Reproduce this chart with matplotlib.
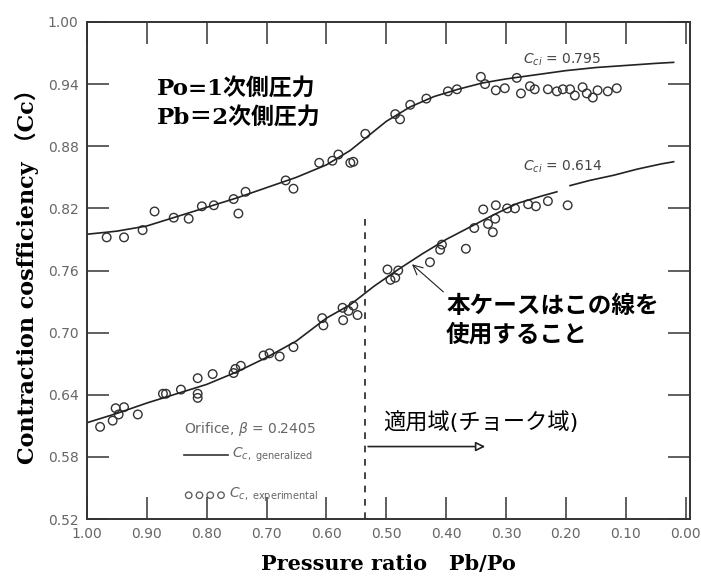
import matplotlib
matplotlib.use("Agg")
import matplotlib.pyplot as plt
import numpy as np

# generalized curves
top_x = [1.00, 0.95, 0.90, 0.85, 0.80, 0.75, 0.70, 0.65, 0.60, 0.56, 0.53, 0.50,
         0.46, 0.42, 0.38, 0.34, 0.30, 0.25, 0.20, 0.15, 0.10, 0.05, 0.02]
top_y = [0.795, 0.798, 0.803, 0.812, 0.821, 0.830, 0.840, 0.850, 0.862, 0.876, 0.890, 0.904,
         0.918, 0.928, 0.935, 0.941, 0.945, 0.949, 0.953, 0.956, 0.958, 0.960, 0.961]

# the printed lower curve has a small break near 0.20
low_x = [1.00, 0.95, 0.90, 0.85, 0.80, 0.75, 0.70, 0.65, 0.60, 0.56, 0.52, 0.48,
         0.44, 0.40, 0.36, 0.32, 0.28, 0.24, 0.215, 0.205, 0.193, 0.16, 0.12, 0.08, 0.04, 0.02]
low_y = [0.613, 0.622, 0.632, 0.641, 0.650, 0.662, 0.676, 0.692, 0.714, 0.727, 0.745, 0.761,
         0.776, 0.790, 0.802, 0.814, 0.825, 0.832, 0.836, np.nan, 0.842, 0.847, 0.852, 0.858,
         0.863, 0.865]

# experimental points
top_px = [0.967, 0.938, 0.907, 0.887, 0.855, 0.830, 0.808, 0.788, 0.755, 0.747, 0.735,
          0.668, 0.655, 0.612, 0.590, 0.580, 0.560, 0.555, 0.535, 0.485, 0.477, 0.460,
          0.433, 0.397, 0.382, 0.342, 0.335, 0.317, 0.302, 0.282, 0.275, 0.260, 0.252,
          0.230, 0.215, 0.205, 0.193, 0.185, 0.172, 0.165, 0.155, 0.147, 0.130, 0.115]
top_py = [0.792, 0.792, 0.799, 0.817, 0.811, 0.810, 0.822, 0.823, 0.829, 0.815, 0.836,
          0.847, 0.839, 0.864, 0.866, 0.872, 0.864, 0.865, 0.892, 0.911, 0.906, 0.920,
          0.926, 0.933, 0.935, 0.947, 0.940, 0.934, 0.936, 0.946, 0.931, 0.938, 0.935,
          0.935, 0.933, 0.935, 0.935, 0.929, 0.937, 0.931, 0.927, 0.934, 0.933, 0.936]

low_px = [0.978, 0.957, 0.952, 0.947, 0.938, 0.915, 0.873, 0.868, 0.843, 0.815, 0.815,
          0.815, 0.790, 0.755, 0.752, 0.743, 0.705, 0.695, 0.678, 0.655, 0.607, 0.605,
          0.573, 0.572, 0.563, 0.555, 0.548, 0.498, 0.493, 0.485, 0.480, 0.427, 0.410,
          0.407, 0.367, 0.353, 0.338, 0.330, 0.322, 0.318, 0.317, 0.298, 0.285, 0.263,
          0.250, 0.230, 0.197]
low_py = [0.609, 0.615, 0.627, 0.621, 0.628, 0.621, 0.641, 0.641, 0.645, 0.656, 0.641,
          0.637, 0.660, 0.661, 0.665, 0.668, 0.678, 0.680, 0.677, 0.686, 0.714, 0.707,
          0.724, 0.712, 0.721, 0.726, 0.717, 0.761, 0.751, 0.753, 0.760, 0.768, 0.780,
          0.785, 0.781, 0.801, 0.819, 0.805, 0.797, 0.810, 0.823, 0.820, 0.820, 0.824,
          0.822, 0.827, 0.823]

xticks = [1.0, 0.9, 0.8, 0.7, 0.6, 0.5, 0.4, 0.3, 0.2, 0.1, 0.0]
yticks = [0.52, 0.58, 0.64, 0.70, 0.76, 0.82, 0.88, 0.94, 1.00]

jp_bold = ['DejaVu Serif', 'Noto Sans CJK JP']
jp = ['DejaVu Sans', 'Noto Sans CJK JP']
grey = '#666666'

fig = plt.figure(figsize=(7.01, 5.78), dpi=100)
ax = fig.add_axes([0.124, 0.102, 0.860, 0.860])

ax.plot(top_x, top_y, color='#222222', lw=1.2)
ax.plot(low_x, low_y, color='#222222', lw=1.2)
ax.scatter(top_px, top_py, s=38, facecolors='none', edgecolors='#333333', linewidths=1.0)
ax.scatter(low_px, low_py, s=38, facecolors='none', edgecolors='#333333', linewidths=1.0)

ax.set_xlim(1.0, -0.007)
ax.set_ylim(0.52, 1.00)
ax.set_xticks(xticks)
ax.set_yticks(yticks)
ax.set_xticklabels([f"{v:.2f}" for v in xticks])
ax.set_yticklabels([f"{v:.2f}" for v in yticks])
ax.tick_params(direction='in', length=16, width=1.2, colors='#444444',
               labelcolor=grey, labelsize=10, top=True, right=True, pad=6)
for s in ax.spines.values():
    s.set_linewidth(1.4)
    s.set_color('#333333')

ax.set_xlabel('Pressure ratio   Pb/Po', family='DejaVu Serif', fontweight='bold',
              fontsize=15, labelpad=9)
ax.set_ylabel('Contraction cosfficiency （Cc）', family=jp_bold, fontweight='bold',
              fontsize=16, labelpad=6)

# curve labels
ax.text(0.272, 0.963, r'$C_{ci}$ = 0.795', fontsize=10, color='#444444', va='center')
ax.text(0.272, 0.860, r'$C_{ci}$ = 0.614', fontsize=10, color='#444444', va='center')

# pressure definitions
ax.text(0.883, 0.935, 'Po=1次側圧力', family=jp_bold, fontweight='bold', fontsize=16.5,
        va='center')
ax.text(0.883, 0.907, 'Pb＝2次側圧力', family=jp_bold, fontweight='bold', fontsize=16.5,
        va='center')

# choke region
ax.vlines(0.535, 0.52, 0.813, colors='#222222', linestyles=(0, (4, 4)), lw=1.2)
ax.annotate('', xy=(0.33, 0.59), xytext=(0.535, 0.59),
            arrowprops=dict(arrowstyle='-|>', color='#222222', lw=1.2,
                            mutation_scale=14, fc='white'))
ax.text(0.505, 0.614, '適用域(チョーク域)', family=jp, fontsize=16, va='center')

# which curve to use
ax.annotate('本ケースはこの線を\n使用すること', xy=(0.457, 0.766), xytext=(0.40, 0.712),
            family=jp, fontweight='bold', fontsize=17, va='center', linespacing=1.2,
            arrowprops=dict(arrowstyle='->', color='#222222', lw=0.8,
                            shrinkA=0, shrinkB=0, relpos=(0, 1)))

# legend block
ax.text(0.838, 0.607, r'Orifice, $\beta$ = 0.2405', fontsize=10, color=grey, va='center')
ax.plot([0.838, 0.765], [0.582, 0.582], color='#333333', lw=1.2)
ax.text(0.757, 0.582, r'$C_{c,\ \rm generalized}$', fontsize=10, color=grey, va='center')
leg_x = [0.830, 0.812, 0.794, 0.776]
leg_y = [0.543, 0.543, 0.543, 0.543]
ax.scatter(leg_x, leg_y, s=22, facecolors='none', edgecolors='#555555', linewidths=0.9)
ax.text(0.762, 0.543, r'$C_{c,\ \rm experimental}$', fontsize=10, color=grey, va='center')

plt.savefig('out.png', dpi=100)
